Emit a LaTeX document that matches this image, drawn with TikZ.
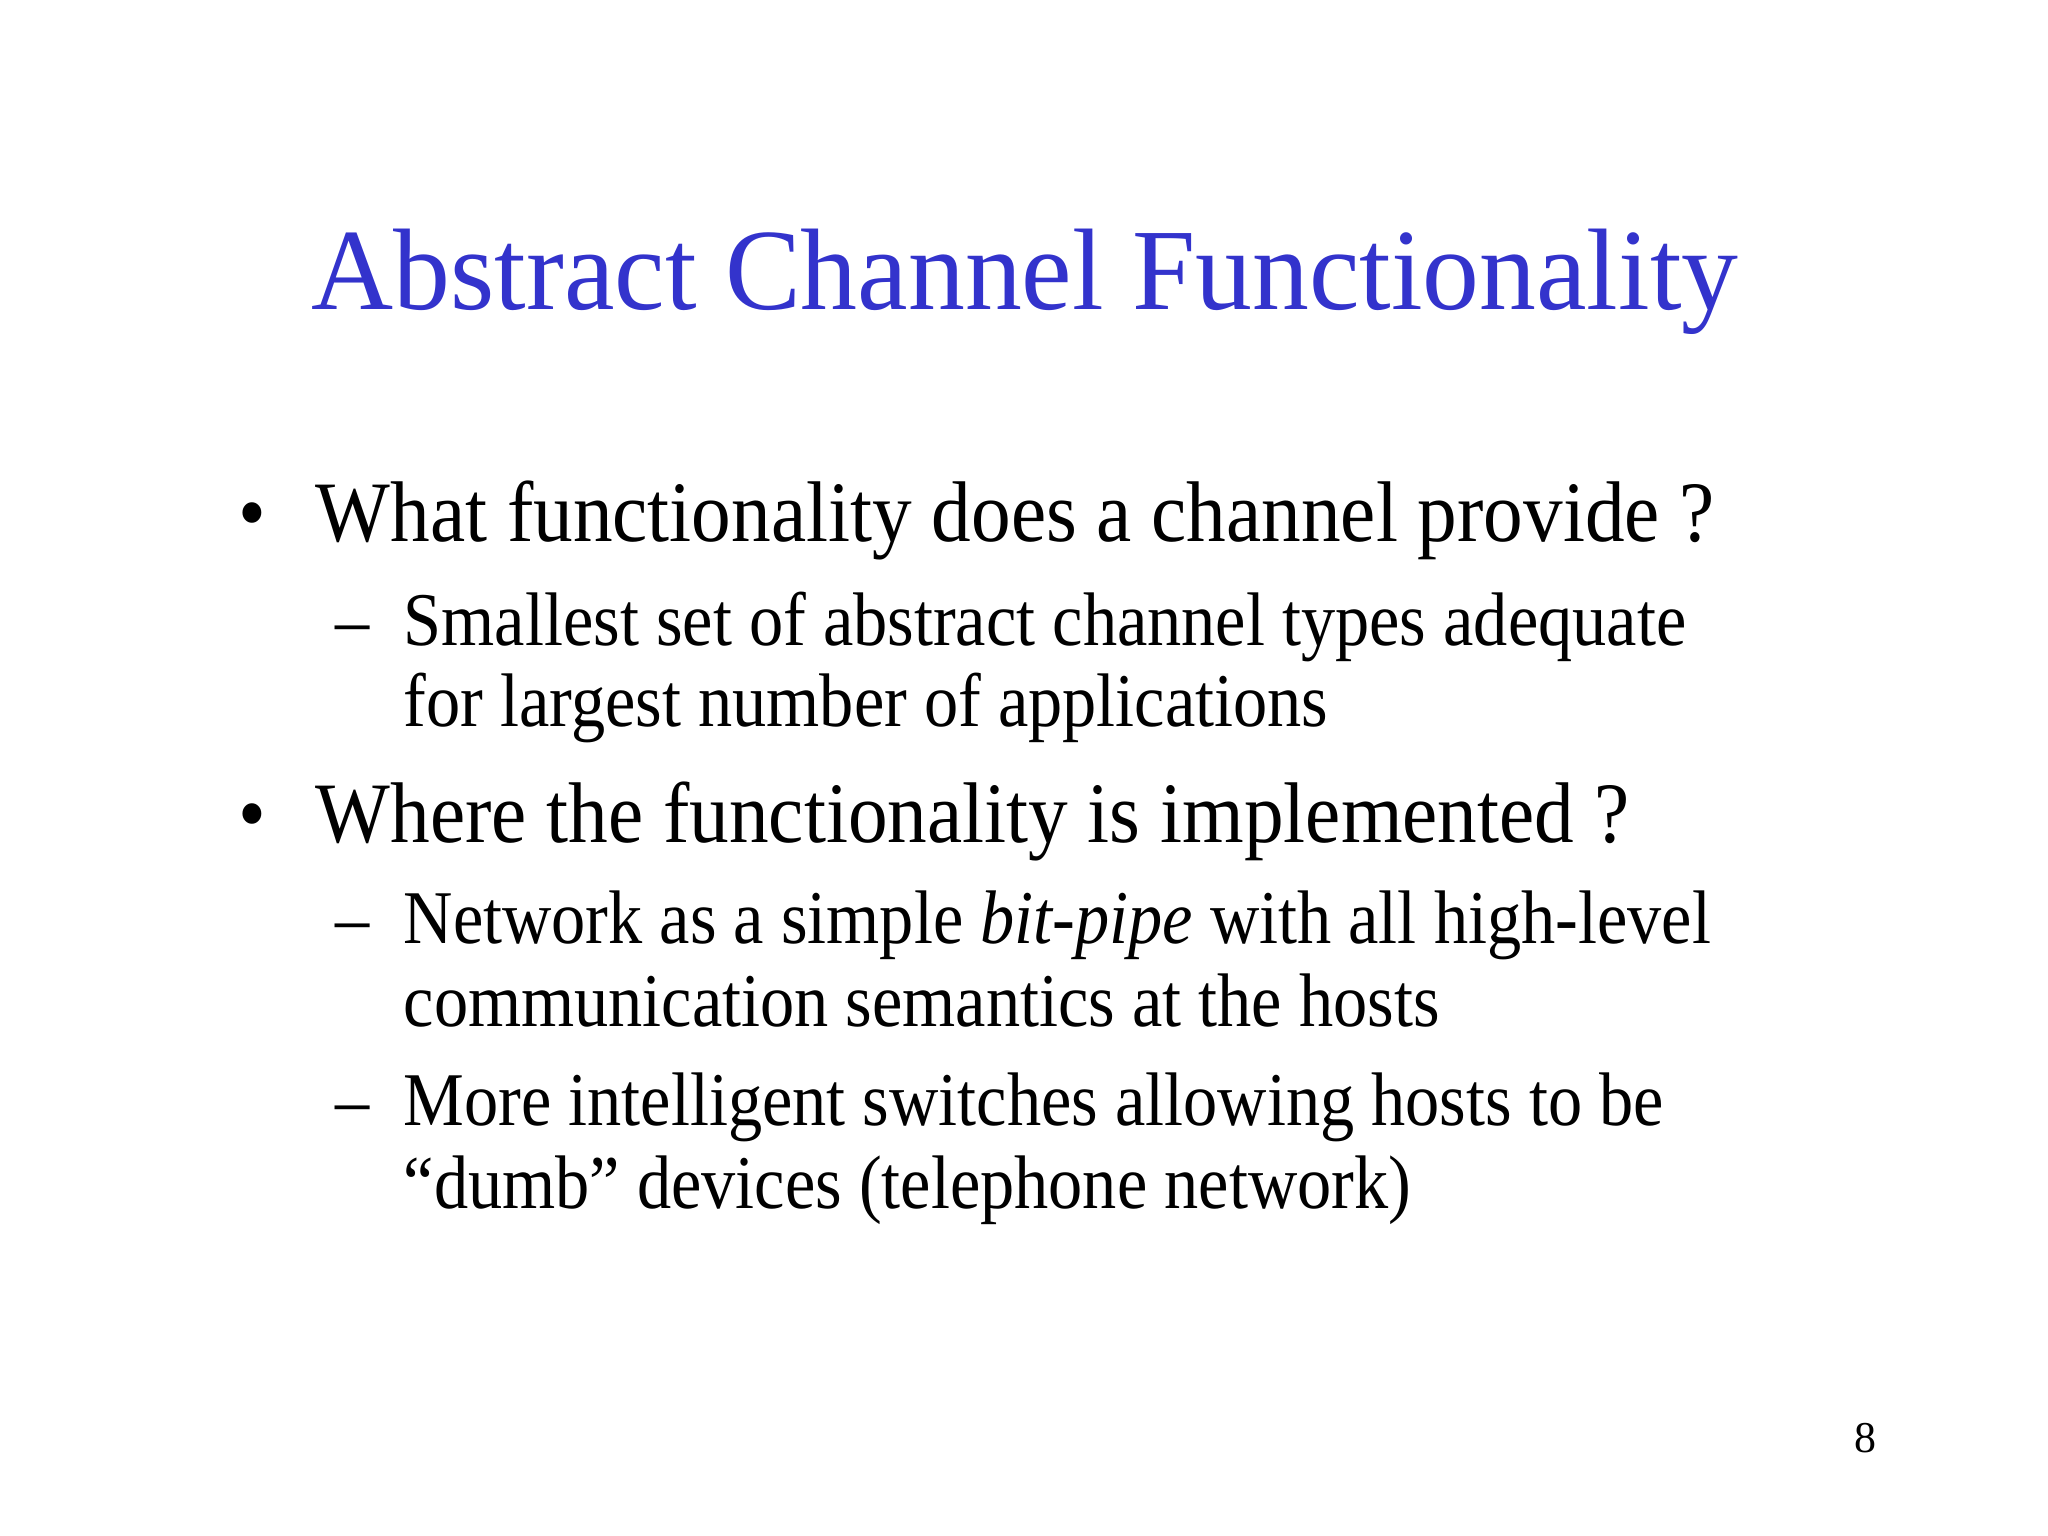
\documentclass[tikz,border=0pt]{standalone}
\usepackage{fontspec}
\setmainfont{Liberation Serif}
\newfontfamily\titlefont[FakeStretch=0.98]{Liberation Serif}
\newfontfamily\bfont[FakeStretch=0.92]{Liberation Serif}
\newfontfamily\sfont[FakeStretch=0.90]{Liberation Serif}
\definecolor{titleblue}{RGB}{51,51,204}
\begin{document}
\begin{tikzpicture}[
  every node/.style={inner sep=0pt, anchor=base west},
  lvla/.style={font=\bfont\fontsize{24.5}{29}\selectfont},
  lvlb/.style={font=\sfont\fontsize{21.6}{26}\selectfont}]
\useasboundingbox (0,0) rectangle (20.48,15.36);
\node[anchor=base, text=titleblue, font=\titlefont\fontsize{33}{40}\selectfont] (title) at (10.25,12.26) {Abstract Channel Functionality};
\node[lvla] (b1) at (2.38,9.94) {•};
\node[lvla] (t1) at (3.15,9.94) {What functionality does a channel provide ?};
\node[lvlb] (d1) at (3.35,8.90) {–};
\node[lvlb] (s1a) at (4.03,8.90) {Smallest set of abstract channel types adequate};
\node[lvlb] (s1b) at (4.03,8.09) {for largest number of applications};
\node[lvla] (b2) at (2.38,6.93) {•};
\node[lvla] (t2) at (3.15,6.93) {Where the functionality is implemented ?};
\node[lvlb] (d2) at (3.35,5.92) {–};
\node[lvlb] (s2a) at (4.03,5.92) {Network as a simple \textit{bit-pipe} with all high-level};
\node[lvlb] (s2b) at (4.03,5.09) {communication semantics at the hosts};
\node[lvlb] (d3) at (3.35,4.10) {–};
\node[lvlb] (s3a) at (4.03,4.10) {More intelligent switches allowing hosts to be};
\node[lvlb] (s3b) at (4.03,3.27) {“dumb” devices (telephone network)};
\node[font=\fontsize{12.5}{15}\selectfont] (pg) at (18.54,0.83) {8};
\end{tikzpicture}
\end{document}
